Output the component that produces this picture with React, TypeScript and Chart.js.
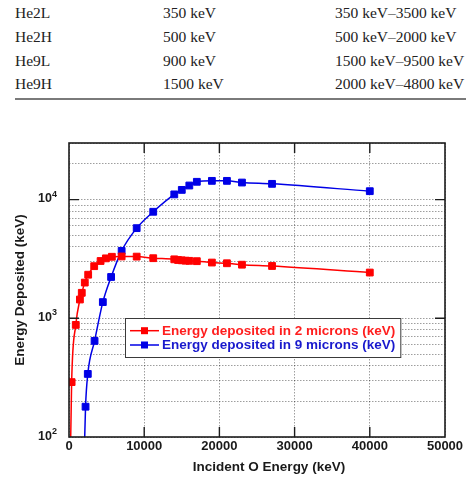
import React, { useEffect, useRef } from "react";
import { Chart, registerables } from "chart.js";

Chart.register(...registerables);

// Beam table shown above the plot
const beamNames = ["He2L", "He2H", "He9L", "He9H"];
const beamEnergies = ["350 keV", "500 keV", "900 keV", "1500 keV"];
const energyRanges = [
  "350 keV–3500 keV",
  "500 keV–2000 keV",
  "1500 keV–9500 keV",
  "2000 keV–4800 keV",
];

// Incident O energy (keV) and energy deposited (keV) in 2 microns
const dep2umX = [100, 350, 900, 1450, 1700, 2100, 2550, 3350, 4200, 4900, 5700, 7000, 9000, 11200, 14000, 14500, 15000, 15500, 16000, 17000, 19000, 21000, 23000, 27000, 40000];
const dep2umY = [30, 290, 880, 1440, 1640, 2000, 2330, 2750, 3040, 3200, 3300, 3320, 3310, 3210, 3140, 3100, 3080, 3060, 3050, 3030, 2950, 2910, 2830, 2760, 2430];

// Incident O energy (keV) and energy deposited (keV) in 9 microns
const dep9umX = [2000, 2200, 2500, 3400, 4500, 5600, 7000, 9000, 11200, 14000, 15000, 16000, 17000, 19000, 21000, 23000, 27000, 40000];
const dep9umY = [60, 180, 340, 645, 1370, 2230, 3700, 5750, 7900, 11070, 12080, 13150, 14130, 14390, 14390, 13930, 13580, 11780];

const seriesLabels = [
  "Energy deposited in 2 microns (keV)",
  "Energy deposited in 9 microns (keV)",
];
const seriesColors = ["rgb(255, 0, 0)", "rgb(0, 0, 230)"];
const legendTextColors = ["rgb(255, 30, 30)", "rgb(25, 25, 205)"];

const xAxisTitle = "Incident O Energy (keV)";
const yAxisTitle = "Energy Deposited (keV)";
const X_MIN = 0;
const X_MAX = 50000;
const X_STEP = 10000;
const Y_MIN = 100;
const Y_MAX = 30000;

const SANS = "'Liberation Sans', Arial, Helvetica, sans-serif";

const isPow10 = (v: number) => Math.abs(Math.log10(v) - Math.round(Math.log10(v))) < 1e-9;
const TICK_LEN = 10;

// Black box around the plot area with inward major ticks on all four sides
const framePlugin = {
  id: "frame",
  afterDatasetsDraw(chart: any) {
    const { ctx, chartArea: a, scales } = chart;
    ctx.save();
    ctx.strokeStyle = "#1c1c1c";
    ctx.lineWidth = 1.6;
    ctx.strokeRect(a.left, a.top, a.right - a.left, a.bottom - a.top);
    ctx.lineWidth = 1.4;
    ctx.beginPath();
    for (const t of scales.x.ticks) {
      if (t.value <= X_MIN || t.value >= X_MAX) continue;
      const px = scales.x.getPixelForValue(t.value);
      ctx.moveTo(px, a.bottom);
      ctx.lineTo(px, a.bottom - TICK_LEN);
      ctx.moveTo(px, a.top);
      ctx.lineTo(px, a.top + TICK_LEN);
    }
    for (const t of scales.y.ticks) {
      if (!isPow10(t.value) || t.value <= Y_MIN || t.value >= Y_MAX) continue;
      const py = scales.y.getPixelForValue(t.value);
      ctx.moveTo(a.left, py);
      ctx.lineTo(a.left + TICK_LEN, py);
      ctx.moveTo(a.right, py);
      ctx.lineTo(a.right - TICK_LEN, py);
    }
    ctx.stroke();
    ctx.restore();
  },
};

// Decade labels on the log axis, written as 10 with a raised exponent
const decadeLabelPlugin = {
  id: "decadeLabels",
  afterDraw(chart: any) {
    const { ctx, chartArea: a, scales } = chart;
    ctx.save();
    ctx.fillStyle = "#1a1a1a";
    ctx.textBaseline = "alphabetic";
    ctx.textAlign = "left";
    for (const t of scales.y.ticks) {
      if (!isPow10(t.value)) continue;
      const py = scales.y.getPixelForValue(t.value);
      const exp = String(Math.round(Math.log10(t.value)));
      ctx.font = `bold 9px ${SANS}`;
      const ew = ctx.measureText(exp).width;
      ctx.font = `bold 12.5px ${SANS}`;
      const bw = ctx.measureText("10").width;
      const right = a.left - 12;
      ctx.fillText("10", right - ew - bw, py + 2.8);
      ctx.font = `bold 9px ${SANS}`;
      ctx.fillText(exp, right - ew, py - 3);
    }
    ctx.restore();
  },
};

// Boxed legend sitting inside the plot area
const boxLegendPlugin = {
  id: "boxLegend",
  afterDraw(chart: any) {
    const { ctx, chartArea: a } = chart;
    const sets = chart.data.datasets;
    ctx.save();
    ctx.font = `bold 13.5px ${SANS}`;
    let maxW = 0;
    sets.forEach((d: any) => (maxW = Math.max(maxW, ctx.measureText(d.label).width)));
    const bx = a.left + 56;
    const by = a.top + 175;
    const bw = 37 + maxW + 5;
    const bh = 39;
    ctx.fillStyle = "#fff";
    ctx.fillRect(bx, by, bw, bh);
    ctx.strokeStyle = "#3a3a3a";
    ctx.lineWidth = 1;
    ctx.strokeRect(bx + 0.5, by + 0.5, bw, bh);
    sets.forEach((d: any, i: number) => {
      const cy = by + 12.7 + i * 14.3;
      ctx.strokeStyle = d.borderColor;
      ctx.lineWidth = 1.5;
      ctx.beginPath();
      ctx.moveTo(bx + 5, cy);
      ctx.lineTo(bx + 34, cy);
      ctx.stroke();
      ctx.fillStyle = d.borderColor;
      ctx.fillRect(bx + 19.5 - 3.5, cy - 3.5, 7, 7);
      ctx.fillStyle = legendTextColors[i];
      ctx.textBaseline = "middle";
      ctx.textAlign = "left";
      ctx.fillText(d.label, bx + 37, cy + 0.5);
    });
    ctx.restore();
  },
};

// X axis title, set slightly right of the plot centre
const xTitlePlugin = {
  id: "xTitle",
  afterDraw(chart: any) {
    const { ctx, chartArea: a } = chart;
    ctx.save();
    ctx.font = `bold 13.5px ${SANS}`;
    ctx.fillStyle = "#1a1a1a";
    ctx.textAlign = "center";
    ctx.textBaseline = "middle";
    ctx.fillText(xAxisTitle, (a.left + a.right) / 2 + 12, a.bottom + 30);
    ctx.restore();
  },
};

function EnergyChart() {
  const ref = useRef<HTMLCanvasElement>(null);
  useEffect(() => {
    if (!ref.current) return;
    const toPoints = (xs: number[], ys: number[]) => xs.map((x, i) => ({ x, y: ys[i] }));
    const chart = new Chart(ref.current, {
      type: "line",
      data: {
        datasets: [
          { label: seriesLabels[0], data: toPoints(dep2umX, dep2umY) },
          { label: seriesLabels[1], data: toPoints(dep9umX, dep9umY) },
        ].map((d, i) => ({
          ...d,
          borderColor: seriesColors[i],
          backgroundColor: seriesColors[i],
          borderWidth: 1.5,
          pointStyle: "rect",
          pointRadius: 4.8,
          pointBorderWidth: 1,
          pointBorderColor: seriesColors[i],
          pointBackgroundColor: seriesColors[i],
          cubicInterpolationMode: "monotone" as const,
          fill: false,
        })),
      },
      options: {
        animation: false,
        responsive: false,
        events: [],
        layout: { padding: { top: 13, right: 22, left: 0, bottom: 0 } },
        plugins: { legend: { display: false }, tooltip: { enabled: false } },
        scales: {
          x: {
            type: "linear",
            min: X_MIN,
            max: X_MAX,
            ticks: {
              stepSize: X_STEP,
              padding: 2,
              color: "#1a1a1a",
              font: { family: SANS, size: 13, weight: "bold" },
              maxRotation: 0,
              callback: (v: any) => String(v),
            },
            grid: { color: "rgba(0,0,0,0.38)", lineWidth: 1, drawTicks: false },
            border: { display: false, dash: [1.5, 1.5] },
            afterFit: (s: any) => {
              s.height = 42;
            },
          },
          y: {
            type: "logarithmic",
            min: Y_MIN,
            max: Y_MAX,
            afterBuildTicks: (s: any) => {
              const ticks: { value: number }[] = [];
              for (let p = Math.floor(Math.log10(Y_MIN)); Math.pow(10, p) <= Y_MAX; p++) {
                for (let m = 1; m <= 9; m++) {
                  const v = m * Math.pow(10, p);
                  if (v >= Y_MIN && v <= Y_MAX) ticks.push({ value: v });
                }
              }
              s.ticks = ticks;
            },
            ticks: {
              autoSkip: false,
              padding: 12,
              font: { family: SANS, size: 1 },
              callback: () => "",
            },
            grid: { color: "rgba(0,0,0,0.38)", lineWidth: 1, drawTicks: false },
            border: { display: false, dash: [1.5, 1.5] },
            title: {
              display: true,
              text: yAxisTitle,
              color: "#1a1a1a",
              font: { family: SANS, size: 13.5, weight: "bold" },
              padding: { top: 12, bottom: 0 },
            },
            afterFit: (s: any) => {
              s.width = 69;
            },
          },
        },
      },
      plugins: [framePlugin, decadeLabelPlugin, xTitlePlugin, boxLegendPlugin],
    } as any);
    return () => chart.destroy();
  }, []);
  return <canvas ref={ref} width={467} height={349} style={{ display: "block" }} />;
}

export default function App() {
  const rowH = 23.7;
  return (
    <div
      style={{
        position: "absolute",
        left: 0,
        top: 0,
        width: 467,
        height: 479,
        background: "#fff",
        overflow: "hidden",
      }}
    >
      <div
        style={{
          position: "absolute",
          left: 0,
          top: 1.2,
          width: 467,
          fontFamily: "'Liberation Serif', 'Times New Roman', serif",
          fontSize: 15.5,
          color: "#222",
        }}
      >
        {beamNames.map((name, i) => (
          <div key={name} style={{ position: "relative", height: rowH, lineHeight: `${rowH}px`, whiteSpace: "nowrap" }}>
            <span style={{ position: "absolute", left: 15 }}>{name}</span>
            <span style={{ position: "absolute", left: 163 }}>{beamEnergies[i]}</span>
            <span style={{ position: "absolute", left: 335 }}>{energyRanges[i]}</span>
          </div>
        ))}
      </div>
      <div
        style={{
          position: "absolute",
          left: 15,
          top: 97.8,
          width: 451,
          height: 2.2,
          background: "#7a7a7a",
        }}
      />
      <div style={{ position: "absolute", left: 0, top: 130, width: 467, height: 349 }}>
        <EnergyChart />
      </div>
    </div>
  );
}
